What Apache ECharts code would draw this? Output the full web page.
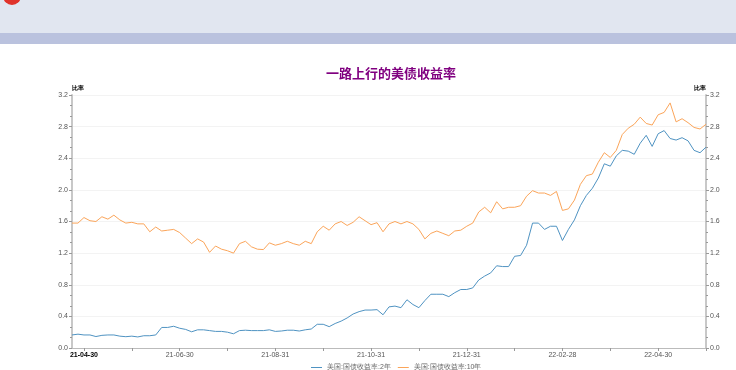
<!DOCTYPE html>
<html>
<head>
<meta charset="utf-8">
<script src="https://cdn.jsdelivr.net/npm/echarts@6/dist/echarts.min.js"></script>
<style>
  html, body { margin: 0; padding: 0; background: #fff; }
  #chart { width: 736px; height: 370px; }
</style>
</head>
<body>
<div id="chart"></div>
<script>
// 日期（约每3~4个交易日一个点）
const dates = [
  '21-04-22', '21-04-26', '21-04-30',
  '21-05-04', '21-05-07', '21-05-11', '21-05-14', '21-05-18', '21-05-21', '21-05-25', '21-05-31',
  '21-06-04', '21-06-07', '21-06-11', '21-06-14', '21-06-18', '21-06-21', '21-06-25', '21-06-30',
  '21-07-04', '21-07-07', '21-07-11', '21-07-14', '21-07-18', '21-07-21', '21-07-25', '21-07-31',
  '21-08-04', '21-08-07', '21-08-11', '21-08-14', '21-08-18', '21-08-21', '21-08-25', '21-08-31',
  '21-09-04', '21-09-07', '21-09-11', '21-09-14', '21-09-18', '21-09-21', '21-09-25', '21-09-30',
  '21-10-04', '21-10-07', '21-10-11', '21-10-14', '21-10-18', '21-10-21', '21-10-25', '21-10-31',
  '21-11-04', '21-11-07', '21-11-11', '21-11-14', '21-11-18', '21-11-21', '21-11-25', '21-11-30',
  '21-12-04', '21-12-07', '21-12-11', '21-12-14', '21-12-18', '21-12-21', '21-12-25', '21-12-31',
  '22-01-04', '22-01-07', '22-01-11', '22-01-14', '22-01-18', '22-01-21', '22-01-25', '22-01-31',
  '22-02-03', '22-02-07', '22-02-10', '22-02-14', '22-02-17', '22-02-21', '22-02-24', '22-02-28',
  '22-03-04', '22-03-07', '22-03-11', '22-03-14', '22-03-18', '22-03-21', '22-03-25', '22-03-31',
  '22-04-04', '22-04-07', '22-04-11', '22-04-14', '22-04-18', '22-04-21', '22-04-25', '22-04-30',
  '22-05-04', '22-05-07', '22-05-11', '22-05-14', '22-05-18', '22-05-21', '22-05-25', '22-05-31'
];

// 美国:国债收益率:2年
const yield2y = [
  0.165, 0.175, 0.165,
  0.165, 0.145, 0.16, 0.165, 0.165, 0.15, 0.143, 0.15,
  0.14, 0.155, 0.155, 0.165, 0.26, 0.26, 0.275, 0.25,
  0.235, 0.205, 0.23, 0.23, 0.22, 0.21, 0.21, 0.20,
  0.18, 0.22, 0.225, 0.22, 0.22, 0.22, 0.23, 0.21,
  0.215, 0.225, 0.225, 0.215, 0.23, 0.24, 0.30, 0.30,
  0.27, 0.31, 0.34, 0.38, 0.43, 0.46, 0.48, 0.48,
  0.485, 0.42, 0.52, 0.53, 0.51, 0.61, 0.55, 0.51,
  0.60, 0.68, 0.68, 0.68, 0.65, 0.70, 0.74, 0.74,
  0.76, 0.86, 0.91, 0.95, 1.04, 1.03, 1.03, 1.16,
  1.17, 1.30, 1.58, 1.58, 1.50, 1.54, 1.54, 1.36,
  1.50, 1.62, 1.80, 1.93, 2.02, 2.15, 2.33, 2.30,
  2.43, 2.50, 2.49, 2.45, 2.59, 2.69, 2.55, 2.71,
  2.75, 2.65, 2.63, 2.66, 2.62, 2.50, 2.47, 2.54
];

// 美国:国债收益率:10年
const yield10y = [
  1.58, 1.58, 1.65,
  1.61, 1.60, 1.66, 1.63, 1.68, 1.62, 1.58, 1.59,
  1.57, 1.57, 1.47, 1.53, 1.48, 1.49, 1.50, 1.46,
  1.39, 1.32, 1.38, 1.34, 1.21, 1.29, 1.25, 1.23,
  1.20, 1.32, 1.35, 1.28, 1.25, 1.245, 1.33, 1.30,
  1.32, 1.35, 1.32, 1.30, 1.35, 1.32, 1.47, 1.54,
  1.49, 1.57, 1.60, 1.55, 1.59, 1.66, 1.61, 1.56,
  1.585, 1.47, 1.57, 1.60, 1.57, 1.60, 1.57, 1.50,
  1.38, 1.45, 1.48, 1.45, 1.42, 1.48, 1.49, 1.54,
  1.58, 1.72, 1.78, 1.71, 1.85, 1.76, 1.78, 1.78,
  1.80, 1.92, 1.99, 1.96, 1.96, 1.93, 1.98, 1.74,
  1.76, 1.87, 2.07, 2.18, 2.20, 2.35, 2.47, 2.41,
  2.50, 2.70, 2.78, 2.83, 2.92, 2.84, 2.82, 2.95,
  2.98, 3.10, 2.86, 2.90, 2.85, 2.79, 2.77, 2.83
];

const tickLabels = ['21-04-30', '21-06-30', '21-08-31', '21-10-31', '21-12-31', '22-02-28', '22-04-30'];
const seriesNames = ['美国:国债收益率:2年', '美国:国债收益率:10年'];

const chart = echarts.init(document.getElementById('chart'));

const yAxisBase = {
  type: 'value',
  min: 0,
  max: 3.2,
  interval: 0.4,
  name: '比率',
  nameGap: 4,
  nameTextStyle: { fontSize: 6, color: '#000', fontWeight: 'bold' },
  axisLine: { show: true, lineStyle: { color: '#c8c8c8', width: 2 } },
  axisTick: { show: true, length: 3, lineStyle: { color: '#999' } },
  minorTick: { show: true, splitNumber: 3, length: 2, lineStyle: { color: '#999' } },
  axisLabel: { fontSize: 7, color: '#555', margin: 4, formatter: v => v.toFixed(1) },
  splitLine: { show: true, lineStyle: { color: '#f3f3f3' } }
};

chart.setOption({
  animation: false,
  backgroundColor: '#fff',
  graphic: [
    { type: 'rect', shape: { x: 0, y: 0, width: 736, height: 33 }, style: { fill: '#e1e6f0' } },
    { type: 'rect', shape: { x: 0, y: 33, width: 736, height: 11 }, style: { fill: '#bac2de' } },
    { type: 'circle', shape: { cx: 12, cy: -4, r: 9 }, style: { fill: '#e0332b' } }
  ],
  title: {
    text: '一路上行的美债收益率',
    left: 386,
    top: 62,
    textAlign: 'center',
    textStyle: { fontSize: 13, fontWeight: 'bold', color: '#800080', fontFamily: 'Noto Sans CJK SC' }
  },
  legend: {
    bottom: -6,
    left: 306,
    icon: 'rect',
    itemWidth: 11,
    itemHeight: 1,
    itemGap: 7,
    textStyle: { fontSize: 7, color: '#666' },
    data: seriesNames
  },
  grid: { left: 72, right: 30, top: 95, bottom: 22 },
  xAxis: {
    type: 'category',
    data: dates,
    boundaryGap: false,
    axisLine: { lineStyle: { color: '#bbb', width: 1 } },
    axisTick: { length: 3, lineStyle: { color: '#999' }, interval: (i) => i % 8 === 2 },
    axisLabel: {
      fontSize: 7,
      color: '#555',
      margin: 4,
      interval: (i, v) => tickLabels.indexOf(v) >= 0,
      formatter: (v) => (v === tickLabels[0] ? '{b|' + v + '}' : v),
      rich: { b: { fontSize: 7, fontWeight: 'bold', color: '#000' } }
    },
    splitLine: { show: false }
  },
  yAxis: [
    Object.assign({}, yAxisBase, { position: 'left', nameTextStyle: Object.assign({}, yAxisBase.nameTextStyle, { align: 'left' }) }),
    Object.assign({}, yAxisBase, { position: 'right', nameTextStyle: Object.assign({}, yAxisBase.nameTextStyle, { align: 'right' }) })
  ],
  series: [
    {
      name: seriesNames[0],
      type: 'line',
      data: yield2y,
      symbol: 'none',
      lineStyle: { width: 1, color: '#4f93c2' },
      itemStyle: { color: '#4f93c2' }
    },
    {
      name: seriesNames[1],
      type: 'line',
      data: yield10y,
      symbol: 'none',
      lineStyle: { width: 1, color: '#fba55a' },
      itemStyle: { color: '#fba55a' }
    }
  ]
});
</script>
</body>
</html>
